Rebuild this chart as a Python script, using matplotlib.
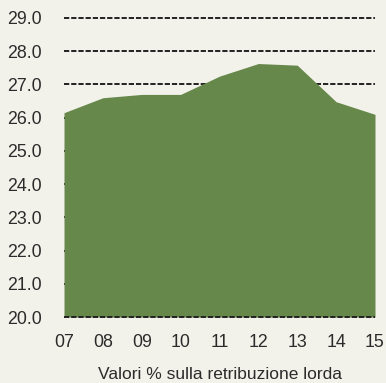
import numpy as np
import matplotlib.pyplot as plt

years = ["07", "08", "09", "10", "11", "12", "13", "14", "15"]
values = [26.15, 26.6, 26.7, 26.7, 27.25, 27.63, 27.58, 26.48, 26.1]
yticks = [20.0, 21.0, 22.0, 23.0, 24.0, 25.0, 26.0, 27.0, 28.0, 29.0]

bg = "#f3f2ea"
green = "#66884b"
txt = "#2b2b2b"

plt.rcParams['font.family'] = ['Liberation Sans', 'DejaVu Sans']

fig = plt.figure(figsize=(3.86, 3.83), dpi=100, facecolor=bg)
ax = fig.add_axes([64 / 386, 66 / 383, 311 / 386, 299 / 383])
ax.set_facecolor(bg)

x = np.arange(len(years))
ax.fill_between(x, 20, values, color=green, lw=0, zorder=1)

# dashed reference lines
for v in yticks:
    ax.axhline(v, color="#222222", lw=1.4, ls=(0, (2.7, 1.0)),
               zorder=0.5 if v != 20 else 2, clip_on=False)

ax.set_xlim(0, len(years) - 1)
ax.set_ylim(20, 29)
ax.set_yticks(yticks)
ax.set_yticklabels([f"{v:.1f}" for v in yticks])
ax.set_xticks(x)
ax.set_xticklabels(years)
ax.tick_params(axis="both", length=0, labelsize=12.8, colors=txt)
ax.tick_params(axis="y", pad=16)
ax.tick_params(axis="x", pad=12)
for s in ax.spines.values():
    s.set_visible(False)

ax.set_xlabel("Valori % sulla retribuzione lorda", fontsize=12.5, color=txt, labelpad=11.5)

fig.savefig("out.png", dpi=100, facecolor=bg)
